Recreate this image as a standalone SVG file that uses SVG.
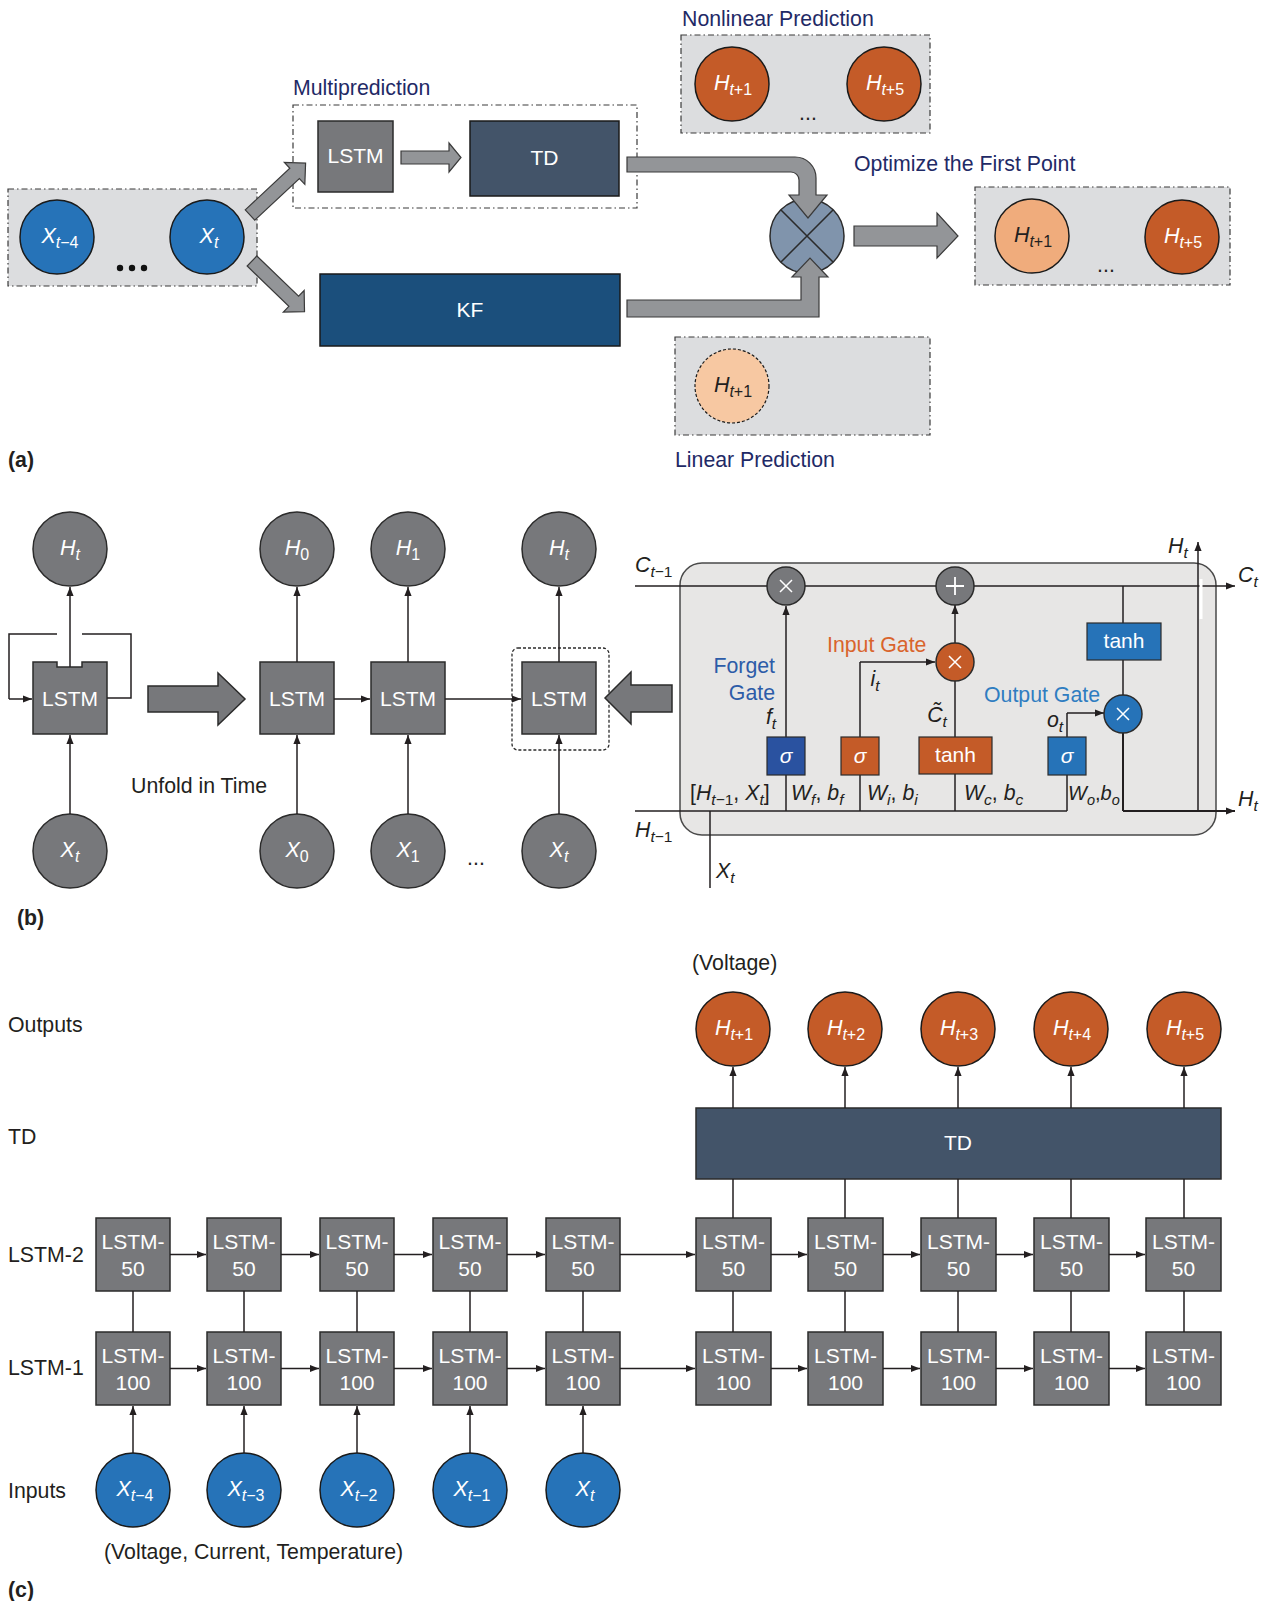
<svg xmlns="http://www.w3.org/2000/svg" width="1267" height="1601" viewBox="0 0 1267 1601">
<style>
text{font-family:"Liberation Sans",Arial,sans-serif;}
.lbl{font-size:21.3px;fill:#231f20}
.navy{font-size:21.3px;fill:#1f2a66}
.w{fill:#fff}
.it{font-style:italic}
.sub{font-size:15.5px}
.bold{font-weight:bold}
.gbox{fill:#77787b;stroke:#2b2b2b;stroke-width:1.5}
.gcirc{fill:#77787b;stroke:#2b2b2b;stroke-width:1.5}
.bcirc{fill:#2673b8;stroke:#1a1a1a;stroke-width:1.5}
.ocirc{fill:#c45b28;stroke:#1a1a1a;stroke-width:1.5}
.grp{fill:#dcdddf;stroke:#3a3a3a;stroke-width:1.2;stroke-dasharray:6 3 1.5 3}
.dd{fill:none;stroke:#3a3a3a;stroke-width:1.2;stroke-dasharray:6 3 1.5 3}
.barr{fill:#939598;stroke:#3a3a3a;stroke-width:1.2}
.ln{fill:none;stroke:#231f20;stroke-width:1.5}
.arr{fill:none;stroke:#231f20;stroke-width:1.5;marker-end:url(#ah)}
.ctr{text-anchor:middle}
</style>
<defs>
<marker id="ah" viewBox="0 0 10 10" refX="10" refY="5" markerWidth="9" markerHeight="9" markerUnits="userSpaceOnUse" orient="auto"><path d="M0,1 L10,5 L0,9 Z" fill="#231f20"/></marker>
</defs>
<rect width="1267" height="1601" fill="#fff"/>

<!-- ================= PANEL (a) ================= -->
<g id="a-input-group">
<rect class="grp" x="8" y="189" width="249" height="97"/>
<circle class="bcirc" cx="57" cy="237" r="37"/>
<text class="w ctr" x="60" y="243" font-size="21.5"><tspan class="it">X</tspan><tspan font-size="16" dy="5"><tspan class="it">t</tspan>−4</tspan></text>
<circle class="bcirc" cx="207" cy="237" r="37"/>
<text class="w ctr" x="209" y="243" font-size="21.5"><tspan class="it">X</tspan><tspan font-size="16" dy="5" class="it">t</tspan></text>
<circle cx="120" cy="268" r="3.2" fill="#111"/><circle cx="132" cy="268" r="3.2" fill="#111"/><circle cx="144" cy="268" r="3.2" fill="#111"/>
</g>
<g id="a-multiprediction">
<text class="navy" x="293" y="95">Multiprediction</text>
<rect class="dd" x="293" y="105" width="344" height="103"/>
</g>
<g id="a-lstm"><rect class="gbox" x="318" y="121" width="75" height="71"/><text class="w ctr" x="355.5" y="163" font-size="21">LSTM</text></g>
<g id="a-td"><rect x="470" y="121" width="149" height="75" fill="#435469" stroke="#1a1a1a" stroke-width="1.5"/><text class="w ctr" x="544.5" y="165" font-size="21">TD</text></g>
<g id="a-kf"><rect x="320" y="274" width="300" height="72" fill="#1b4f7c" stroke="#1a1a1a" stroke-width="1.5"/><text class="w ctr" x="470" y="317" font-size="21">KF</text></g>
<g id="a-combiner">
<circle cx="807" cy="236" r="37" fill="#8094ac" stroke="#2b2b2b" stroke-width="1.5"/>
<path d="M781,210 L833,262 M833,210 L781,262" stroke="#2b2b2b" stroke-width="1.5"/>
</g>
<g id="a-nonlinear">
<text class="navy" x="682" y="26">Nonlinear Prediction</text>
<rect class="grp" x="681" y="35" width="249" height="98"/>
<circle class="ocirc" cx="732" cy="84" r="37"/>
<text class="w ctr" x="733" y="90" font-size="21.5"><tspan class="it">H</tspan><tspan font-size="16" dy="5"><tspan class="it">t</tspan>+1</tspan></text>
<circle class="ocirc" cx="884" cy="84" r="37"/>
<text class="w ctr" x="885" y="90" font-size="21.5"><tspan class="it">H</tspan><tspan font-size="16" dy="5"><tspan class="it">t</tspan>+5</tspan></text>
<text class="lbl ctr" x="808" y="120" font-size="16">...</text>
</g>
<g id="a-optimized">
<text class="navy" x="854" y="171">Optimize the First Point</text>
<rect class="grp" x="975" y="187" width="255" height="98"/>
<circle cx="1032" cy="236" r="37" fill="#f0ac7c" stroke="#1a1a1a" stroke-width="1.5"/>
<text class="ctr" x="1033" y="242" font-size="21.5" fill="#231f20"><tspan class="it">H</tspan><tspan font-size="16" dy="5"><tspan class="it">t</tspan>+1</tspan></text>
<circle class="ocirc" cx="1182" cy="237" r="37"/>
<text class="w ctr" x="1183" y="243" font-size="21.5"><tspan class="it">H</tspan><tspan font-size="16" dy="5"><tspan class="it">t</tspan>+5</tspan></text>
<text class="lbl ctr" x="1106" y="272" font-size="16">...</text>
</g>
<g id="a-linear">
<rect class="grp" x="675" y="337" width="255" height="98"/>
<circle cx="732" cy="386" r="37" fill="#f7c8a2" stroke="#1a1a1a" stroke-width="1.2" stroke-dasharray="3 2"/>
<text class="ctr" x="733" y="392" font-size="21.5" fill="#231f20"><tspan class="it">H</tspan><tspan font-size="16" dy="5"><tspan class="it">t</tspan>+1</tspan></text>
<text class="navy" x="675" y="467">Linear Prediction</text>
</g>
<g id="a-connectors">
<polygon class="barr" transform="translate(250,215) rotate(-43)" points="0,-7 61,-7 61,-15 76,0 61,15 61,7 0,7"/>
<polygon class="barr" transform="translate(252,261) rotate(44)" points="0,-7 58,-7 58,-15 73,0 58,15 58,7 0,7"/>
<path class="barr" d="M401,151 H449 V143 L461,157.5 L449,172 V164 H401 Z"/>
<path class="barr" d="M627,157 H795 A21,21 0 0 1 816,178 V195 H827 L808,218 L789,195 H799 V180 A8,8 0 0 0 791,172 H627 Z"/>
<path class="barr" d="M627,300 H801 V277 H792 L810,258 L828,277 H819 V317 H627 Z"/>
<path class="barr" d="M854,226 H937 V213 L958,236 L937,258 V246 H854 Z"/>
</g>
<text class="lbl bold" x="8" y="467">(a)</text>

<!-- ================= PANEL (b) ================= -->
<g id="b-rolled">
<circle class="gcirc" cx="70" cy="549" r="37"/>
<text class="w ctr" x="70" y="555" font-size="21.5"><tspan class="it">H</tspan><tspan font-size="16" dy="5" class="it">t</tspan></text>
<path class="gbox" d="M33,662 H57 V667 H82 V662 H107 V734 H33 Z"/>
<text class="w ctr" x="70" y="706" font-size="21">LSTM</text>
<circle class="gcirc" cx="70" cy="851" r="37"/>
<text class="w ctr" x="70" y="857" font-size="21.5"><tspan class="it">X</tspan><tspan font-size="16" dy="5" class="it">t</tspan></text>
</g>
<g id="b-unfold-arrow">
<path class="gbox" d="M148,686 H218 V673 L245,699 L218,725 V712 H148 Z"/>
<text class="lbl" x="131" y="793">Unfold in Time</text>
</g>
<g id="b-chain">
<circle class="gcirc" cx="297" cy="549" r="37"/>
<text class="w ctr" x="297" y="555" font-size="21.5"><tspan class="it">H</tspan><tspan font-size="16" dy="5">0</tspan></text>
<circle class="gcirc" cx="408" cy="549" r="37"/>
<text class="w ctr" x="408" y="555" font-size="21.5"><tspan class="it">H</tspan><tspan font-size="16" dy="5">1</tspan></text>
<circle class="gcirc" cx="559" cy="549" r="37"/>
<text class="w ctr" x="559" y="555" font-size="21.5"><tspan class="it">H</tspan><tspan font-size="16" dy="5" class="it">t</tspan></text>
<rect class="gbox" x="260" y="662" width="74" height="72"/><text class="w ctr" x="297" y="706" font-size="21">LSTM</text>
<rect class="gbox" x="371" y="662" width="74" height="72"/><text class="w ctr" x="408" y="706" font-size="21">LSTM</text>
<rect class="gbox" x="522" y="662" width="74" height="72"/><text class="w ctr" x="559" y="706" font-size="21">LSTM</text>
<rect x="512" y="648" width="97" height="102" rx="6" fill="none" stroke="#2b2b2b" stroke-width="1.3" stroke-dasharray="3 2"/>
<circle class="gcirc" cx="297" cy="851" r="37"/>
<text class="w ctr" x="297" y="857" font-size="21.5"><tspan class="it">X</tspan><tspan font-size="16" dy="5">0</tspan></text>
<circle class="gcirc" cx="408" cy="851" r="37"/>
<text class="w ctr" x="408" y="857" font-size="21.5"><tspan class="it">X</tspan><tspan font-size="16" dy="5">1</tspan></text>
<circle class="gcirc" cx="559" cy="851" r="37"/>
<text class="w ctr" x="559" y="857" font-size="21.5"><tspan class="it">X</tspan><tspan font-size="16" dy="5" class="it">t</tspan></text>
<text class="lbl ctr" x="476" y="865" font-size="16">...</text>
</g>
<g id="b-connectors">
<path class="arr" d="M70,667 V587"/>
<path class="arr" d="M70,814 V735"/>
<path class="ln" d="M57,634 H9 V699"/>
<path class="arr" d="M9,699 H32"/>
<path class="ln" d="M107,698 H131 V634 H82"/>
<path class="arr" d="M297,662 V587"/>
<path class="arr" d="M408,662 V587"/>
<path class="arr" d="M559,662 V587"/>
<path class="arr" d="M297,814 V735"/>
<path class="arr" d="M408,814 V735"/>
<path class="arr" d="M559,814 V735"/>
<path class="arr" d="M334,699 H370"/>
<path class="arr" d="M445,699 H521"/>
<path class="gbox" d="M672,685 H631 V672 L605,698 L631,724 V712 H672 Z"/>
</g>
<g id="b-cell">
<rect x="680" y="563" width="536" height="272" rx="22" fill="#e7e6e5" stroke="#4a4a4a" stroke-width="1.5"/>
<path class="arr" d="M635,586 H1235"/>
<path class="ln" d="M635,811 H1067"/>
<path class="ln" d="M710,811 V888"/>
<path class="arr" d="M786,737 V606"/>
<path class="ln" d="M786,775 V811"/>
<path class="ln" d="M860,737 V662"/>
<path class="arr" d="M860,662 H935"/>
<path class="ln" d="M860,775 V811"/>
<path class="ln" d="M955,737 V681"/>
<path class="arr" d="M955,643 V605"/>
<path class="ln" d="M955,774 V811"/>
<path class="ln" d="M1067,737 V713"/>
<path class="arr" d="M1067,713 H1104"/>
<path class="ln" d="M1067,775 V811"/>
<path class="ln" d="M1123,586 V623 M1123,660 V695"/>
<path class="ln" d="M1123,732 V811" style="stroke-width:2"/>
<path class="arr" d="M1123,811 H1235" style="stroke-width:2"/>
<path class="arr" d="M1198,811 V542"/>
<rect x="1199.5" y="579" width="3" height="40" fill="#fff"/>
<circle cx="786" cy="586" r="19" fill="#77787b" stroke="#2b2b2b" stroke-width="1.5"/>
<path d="M780,580 L792,592 M792,580 L780,592" stroke="#fff" stroke-width="1.5"/>
<circle cx="955" cy="586" r="19" fill="#77787b" stroke="#2b2b2b" stroke-width="1.5"/>
<path d="M946,586 H964 M955,577 V595" stroke="#fff" stroke-width="1.8"/>
<circle cx="955" cy="662" r="19" fill="#c45b28" stroke="#2b2b2b" stroke-width="1.5"/>
<path d="M949,656 L961,668 M961,656 L949,668" stroke="#fff" stroke-width="1.5"/>
<circle cx="1123" cy="714" r="19" fill="#2673b8" stroke="#2b2b2b" stroke-width="1.5"/>
<path d="M1117,708 L1129,720 M1129,708 L1117,720" stroke="#fff" stroke-width="1.5"/>
<rect x="767" y="737" width="38" height="38" fill="#2a52a0" stroke="#2b2b2b" stroke-width="1.2"/>
<text class="w ctr it" x="786" y="763" font-size="21">σ</text>
<rect x="841" y="737" width="38" height="38" fill="#c45b28" stroke="#2b2b2b" stroke-width="1.2"/>
<text class="w ctr it" x="860" y="763" font-size="21">σ</text>
<rect x="919" y="737" width="73" height="37" fill="#c45b28" stroke="#2b2b2b" stroke-width="1.2"/>
<text class="w ctr" x="955.5" y="762" font-size="21">tanh</text>
<rect x="1048" y="737" width="38" height="38" fill="#2673b8" stroke="#2b2b2b" stroke-width="1.2"/>
<text class="w ctr it" x="1067" y="763" font-size="21">σ</text>
<rect x="1087" y="623" width="74" height="37" fill="#2673b8" stroke="#2b2b2b" stroke-width="1.2"/>
<text class="w ctr" x="1124" y="648" font-size="21">tanh</text>
<text x="775" y="673" font-size="21.3" fill="#2d5ca8" text-anchor="end">Forget</text>
<text x="775" y="700" font-size="21.3" fill="#2d5ca8" text-anchor="end">Gate</text>
<text x="827" y="652" font-size="21.3" fill="#d9642c">Input Gate</text>
<text x="984" y="702" font-size="21.3" fill="#2f7dc1">Output Gate</text>
<text class="lbl ctr" x="771" y="724"><tspan class="it">f</tspan><tspan class="it sub" dy="5">t</tspan></text>
<text class="lbl ctr" x="875" y="686"><tspan class="it">i</tspan><tspan class="it sub" dy="5">t</tspan></text>
<text class="lbl ctr" x="937" y="722"><tspan class="it">C̃</tspan><tspan class="it sub" dy="5">t</tspan></text>
<text class="lbl ctr" x="1055" y="727"><tspan class="it">o</tspan><tspan class="it sub" dy="5">t</tspan></text>
<text class="lbl" x="690" y="800">[<tspan class="it">H</tspan><tspan class="sub" dy="5"><tspan class="it">t</tspan>−1</tspan><tspan dy="-5">, </tspan><tspan class="it">X</tspan><tspan class="it sub" dy="5">t</tspan><tspan dy="-5">]</tspan></text>
<text class="lbl" x="791" y="800"><tspan class="it">W</tspan><tspan class="it sub" dy="5">f</tspan><tspan dy="-5">, </tspan><tspan class="it">b</tspan><tspan class="it sub" dy="5">f</tspan></text>
<text class="lbl" x="867" y="800"><tspan class="it">W</tspan><tspan class="it sub" dy="5">i</tspan><tspan dy="-5">, </tspan><tspan class="it">b</tspan><tspan class="it sub" dy="5">i</tspan></text>
<text class="lbl" x="964" y="800"><tspan class="it">W</tspan><tspan class="it sub" dy="5">c</tspan><tspan dy="-5">, </tspan><tspan class="it">b</tspan><tspan class="it sub" dy="5">c</tspan></text>
<text x="1068" y="800" font-size="20" fill="#231f20"><tspan class="it">W</tspan><tspan class="it" font-size="14.5" dy="5">o</tspan><tspan dy="-5">,</tspan><tspan class="it">b</tspan><tspan class="it" font-size="14.5" dy="5">o</tspan></text>
<text class="lbl" x="635" y="572"><tspan class="it">C</tspan><tspan class="sub" dy="5"><tspan class="it">t</tspan>−1</tspan></text>
<text class="lbl" x="635" y="837"><tspan class="it">H</tspan><tspan class="sub" dy="5"><tspan class="it">t</tspan>−1</tspan></text>
<text class="lbl" x="716" y="878"><tspan class="it">X</tspan><tspan class="it sub" dy="5">t</tspan></text>
<text class="lbl" x="1238" y="582"><tspan class="it">C</tspan><tspan class="it sub" dy="5">t</tspan></text>
<text class="lbl" x="1238" y="806"><tspan class="it">H</tspan><tspan class="it sub" dy="5">t</tspan></text>
<text class="lbl" x="1168" y="553"><tspan class="it">H</tspan><tspan class="it sub" dy="5">t</tspan></text>
</g>
<text class="lbl bold" x="17" y="925">(b)</text>

<!-- ================= PANEL (c) ================= -->
<g id="c-labels">
<text class="lbl" x="8" y="1032">Outputs</text>
<text class="lbl" x="8" y="1144">TD</text>
<text class="lbl" x="8" y="1262">LSTM-2</text>
<text class="lbl" x="8" y="1375">LSTM-1</text>
<text class="lbl" x="8" y="1498">Inputs</text>
<text class="lbl" x="692" y="970">(Voltage)</text>
<text class="lbl" x="104" y="1559">(Voltage, Current, Temperature)</text>
<text class="lbl bold" x="8" y="1597">(c)</text>
</g>
<g id="c-outputs">
<circle class="ocirc" cx="733" cy="1029" r="37"/><text class="w ctr" x="734" y="1035" font-size="21.5"><tspan class="it">H</tspan><tspan font-size="16" dy="5"><tspan class="it">t</tspan>+1</tspan></text>
<circle class="ocirc" cx="845" cy="1029" r="37"/><text class="w ctr" x="846" y="1035" font-size="21.5"><tspan class="it">H</tspan><tspan font-size="16" dy="5"><tspan class="it">t</tspan>+2</tspan></text>
<circle class="ocirc" cx="958" cy="1029" r="37"/><text class="w ctr" x="959" y="1035" font-size="21.5"><tspan class="it">H</tspan><tspan font-size="16" dy="5"><tspan class="it">t</tspan>+3</tspan></text>
<circle class="ocirc" cx="1071" cy="1029" r="37"/><text class="w ctr" x="1072" y="1035" font-size="21.5"><tspan class="it">H</tspan><tspan font-size="16" dy="5"><tspan class="it">t</tspan>+4</tspan></text>
<circle class="ocirc" cx="1184" cy="1029" r="37"/><text class="w ctr" x="1185" y="1035" font-size="21.5"><tspan class="it">H</tspan><tspan font-size="16" dy="5"><tspan class="it">t</tspan>+5</tspan></text>
</g>
<g id="c-td"><rect x="696" y="1108" width="525" height="71" fill="#435469" stroke="#2b2b2b" stroke-width="1.5"/><text class="w ctr" x="958" y="1150" font-size="21">TD</text></g>
<g id="c-lstm2">
<rect class="gbox" x="96" y="1218" width="74" height="73"/><text class="w ctr" x="133" y="1249" font-size="21">LSTM-</text><text class="w ctr" x="133" y="1276" font-size="21">50</text>
<rect class="gbox" x="207" y="1218" width="74" height="73"/><text class="w ctr" x="244" y="1249" font-size="21">LSTM-</text><text class="w ctr" x="244" y="1276" font-size="21">50</text>
<rect class="gbox" x="320" y="1218" width="74" height="73"/><text class="w ctr" x="357" y="1249" font-size="21">LSTM-</text><text class="w ctr" x="357" y="1276" font-size="21">50</text>
<rect class="gbox" x="433" y="1218" width="74" height="73"/><text class="w ctr" x="470" y="1249" font-size="21">LSTM-</text><text class="w ctr" x="470" y="1276" font-size="21">50</text>
<rect class="gbox" x="546" y="1218" width="74" height="73"/><text class="w ctr" x="583" y="1249" font-size="21">LSTM-</text><text class="w ctr" x="583" y="1276" font-size="21">50</text>
<rect class="gbox" x="696" y="1218" width="75" height="73"/><text class="w ctr" x="733.5" y="1249" font-size="21">LSTM-</text><text class="w ctr" x="733.5" y="1276" font-size="21">50</text>
<rect class="gbox" x="808" y="1218" width="75" height="73"/><text class="w ctr" x="845.5" y="1249" font-size="21">LSTM-</text><text class="w ctr" x="845.5" y="1276" font-size="21">50</text>
<rect class="gbox" x="921" y="1218" width="75" height="73"/><text class="w ctr" x="958.5" y="1249" font-size="21">LSTM-</text><text class="w ctr" x="958.5" y="1276" font-size="21">50</text>
<rect class="gbox" x="1034" y="1218" width="75" height="73"/><text class="w ctr" x="1071.5" y="1249" font-size="21">LSTM-</text><text class="w ctr" x="1071.5" y="1276" font-size="21">50</text>
<rect class="gbox" x="1146" y="1218" width="75" height="73"/><text class="w ctr" x="1183.5" y="1249" font-size="21">LSTM-</text><text class="w ctr" x="1183.5" y="1276" font-size="21">50</text>
</g>
<g id="c-lstm1">
<rect class="gbox" x="96" y="1332" width="74" height="73"/><text class="w ctr" x="133" y="1363" font-size="21">LSTM-</text><text class="w ctr" x="133" y="1390" font-size="21">100</text>
<rect class="gbox" x="207" y="1332" width="74" height="73"/><text class="w ctr" x="244" y="1363" font-size="21">LSTM-</text><text class="w ctr" x="244" y="1390" font-size="21">100</text>
<rect class="gbox" x="320" y="1332" width="74" height="73"/><text class="w ctr" x="357" y="1363" font-size="21">LSTM-</text><text class="w ctr" x="357" y="1390" font-size="21">100</text>
<rect class="gbox" x="433" y="1332" width="74" height="73"/><text class="w ctr" x="470" y="1363" font-size="21">LSTM-</text><text class="w ctr" x="470" y="1390" font-size="21">100</text>
<rect class="gbox" x="546" y="1332" width="74" height="73"/><text class="w ctr" x="583" y="1363" font-size="21">LSTM-</text><text class="w ctr" x="583" y="1390" font-size="21">100</text>
<rect class="gbox" x="696" y="1332" width="75" height="73"/><text class="w ctr" x="733.5" y="1363" font-size="21">LSTM-</text><text class="w ctr" x="733.5" y="1390" font-size="21">100</text>
<rect class="gbox" x="808" y="1332" width="75" height="73"/><text class="w ctr" x="845.5" y="1363" font-size="21">LSTM-</text><text class="w ctr" x="845.5" y="1390" font-size="21">100</text>
<rect class="gbox" x="921" y="1332" width="75" height="73"/><text class="w ctr" x="958.5" y="1363" font-size="21">LSTM-</text><text class="w ctr" x="958.5" y="1390" font-size="21">100</text>
<rect class="gbox" x="1034" y="1332" width="75" height="73"/><text class="w ctr" x="1071.5" y="1363" font-size="21">LSTM-</text><text class="w ctr" x="1071.5" y="1390" font-size="21">100</text>
<rect class="gbox" x="1146" y="1332" width="75" height="73"/><text class="w ctr" x="1183.5" y="1363" font-size="21">LSTM-</text><text class="w ctr" x="1183.5" y="1390" font-size="21">100</text>
</g>
<g id="c-inputs">
<circle class="bcirc" cx="133" cy="1490" r="37"/><text class="w ctr" x="135" y="1496" font-size="21.5"><tspan class="it">X</tspan><tspan font-size="16" dy="5"><tspan class="it">t</tspan>−4</tspan></text>
<circle class="bcirc" cx="244" cy="1490" r="37"/><text class="w ctr" x="246" y="1496" font-size="21.5"><tspan class="it">X</tspan><tspan font-size="16" dy="5"><tspan class="it">t</tspan>−3</tspan></text>
<circle class="bcirc" cx="357" cy="1490" r="37"/><text class="w ctr" x="359" y="1496" font-size="21.5"><tspan class="it">X</tspan><tspan font-size="16" dy="5"><tspan class="it">t</tspan>−2</tspan></text>
<circle class="bcirc" cx="470" cy="1490" r="37"/><text class="w ctr" x="472" y="1496" font-size="21.5"><tspan class="it">X</tspan><tspan font-size="16" dy="5"><tspan class="it">t</tspan>−1</tspan></text>
<circle class="bcirc" cx="583" cy="1490" r="37"/><text class="w ctr" x="585" y="1496" font-size="21.5"><tspan class="it">X</tspan><tspan font-size="16" dy="5" class="it">t</tspan></text>
</g>
<g id="c-connectors">
<path class="arr" d="M733,1108 V1067"/><path class="arr" d="M845,1108 V1067"/><path class="arr" d="M958,1108 V1067"/><path class="arr" d="M1071,1108 V1067"/><path class="arr" d="M1184,1108 V1067"/>
<path class="ln" d="M733,1218 V1179 M845,1218 V1179 M958,1218 V1179 M1071,1218 V1179 M1184,1218 V1179"/>
<path class="ln" d="M133,1332 V1291 M244,1332 V1291 M357,1332 V1291 M470,1332 V1291 M583,1332 V1291 M733,1332 V1291 M845,1332 V1291 M958,1332 V1291 M1071,1332 V1291 M1184,1332 V1291"/>
<path class="arr" d="M133,1453 V1406"/>
<path class="arr" d="M244,1453 V1406"/>
<path class="arr" d="M357,1453 V1406"/>
<path class="arr" d="M470,1453 V1406"/>
<path class="arr" d="M583,1453 V1406"/>
<path class="arr" d="M170,1254.5 H206"/><path class="arr" d="M281,1254.5 H319"/><path class="arr" d="M394,1254.5 H432"/><path class="arr" d="M507,1254.5 H545"/><path class="arr" d="M620,1254.5 H695"/><path class="arr" d="M771,1254.5 H807"/><path class="arr" d="M883,1254.5 H920"/><path class="arr" d="M996,1254.5 H1033"/><path class="arr" d="M1109,1254.5 H1145"/>
<path class="arr" d="M170,1368.5 H206"/><path class="arr" d="M281,1368.5 H319"/><path class="arr" d="M394,1368.5 H432"/><path class="arr" d="M507,1368.5 H545"/><path class="arr" d="M620,1368.5 H695"/><path class="arr" d="M771,1368.5 H807"/><path class="arr" d="M883,1368.5 H920"/><path class="arr" d="M996,1368.5 H1033"/><path class="arr" d="M1109,1368.5 H1145"/>
</g>
</svg>
